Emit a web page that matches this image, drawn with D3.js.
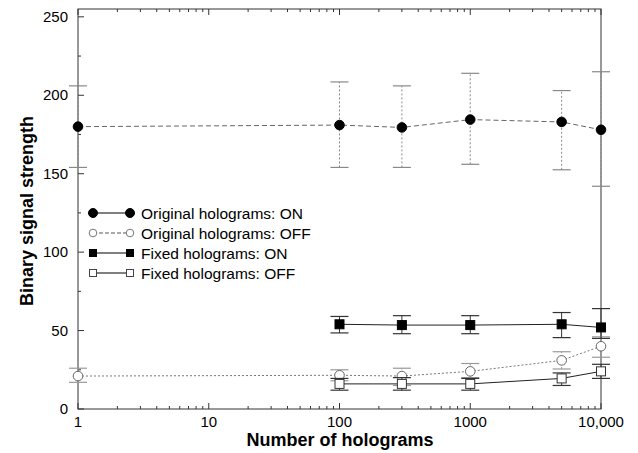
<!DOCTYPE html>
<html>
<head>
<meta charset="utf-8">
<script src="https://cdn.jsdelivr.net/npm/d3@7"></script>
<style>
  body { margin: 0; background: #fff; }
  svg text { font-family: "Liberation Sans", Arial, sans-serif; fill: #000; }
</style>
</head>
<body>
<div class="chart"></div>
<script>
var svgWidth = 638;
var svgHeight = 453;

// data
var origX = [1, 100, 300, 1000, 5000, 10000];
var origOn = [180, 181, 179.5, 184.5, 183, 178];
var origOnLo = [154, 154, 154, 156, 152.5, 142];
var origOnHi = [206, 208.5, 206, 214, 203, 215];
var origOff = [21, 21.5, 21, 24, 31, 40];
var origOffLo = [17, 18, 15, 20, 25.5, 33];
var origOffHi = [26, 25, 26, 29, 36.5, 46];

var fixedX = [100, 300, 1000, 5000, 10000];
var fixedOn = [54, 53.5, 53.5, 54, 52];
var fixedOnLo = [48.5, 48, 48, 45.5, 45];
var fixedOnHi = [59, 59.5, 59.5, 61.5, 64];
var fixedOff = [16, 16, 16, 19.5, 24];
var fixedOffLo = [12, 12, 12, 15, 19.5];
var fixedOffHi = [19.5, 20, 19.5, 23, 28.5];

var xTicks = [1, 10, 100, 1000, 10000];
var xTickLabels = ["1", "10", "100", "1000", "10,000"];
var yTicks = [0, 50, 100, 150, 200, 250];

var legendLabels = ["Original holograms: ON", "Original holograms: OFF", "Fixed holograms: ON", "Fixed holograms: OFF"];

var plot = { left: 78, right: 601, top: 9, bottom: 409 };

var svg = d3.select(".chart")
  .append("svg")
  .attr("width", svgWidth)
  .attr("height", svgHeight);

var x = d3.scaleLog().domain([1, 10000]).range([plot.left, plot.right]);
var y = d3.scaleLinear().domain([0, 255]).range([plot.bottom, plot.top]);

// frame
svg.append("rect")
  .attr("x", plot.left).attr("y", plot.top)
  .attr("width", plot.right - plot.left)
  .attr("height", plot.bottom - plot.top)
  .attr("fill", "none")
  .attr("stroke", "#333")
  .attr("stroke-width", 1);

// x ticks (log minor ticks, inward on bottom and top)
var xMinor = [];
for (var d = 1; d < 10000; d *= 10) {
  for (var k = 1; k < 10; k++) xMinor.push(d * k);
}
xMinor.push(10000);

svg.append("g").selectAll("line.xb")
  .data(xMinor).enter().append("line")
  .attr("x1", function(v) { return x(v); })
  .attr("x2", function(v) { return x(v); })
  .attr("y1", plot.bottom)
  .attr("y2", function(v) { return plot.bottom - (xTicks.indexOf(v) >= 0 ? 6 : 3); })
  .attr("stroke", "#333");

svg.append("g").selectAll("line.xt")
  .data(xMinor).enter().append("line")
  .attr("x1", function(v) { return x(v); })
  .attr("x2", function(v) { return x(v); })
  .attr("y1", plot.top)
  .attr("y2", function(v) { return plot.top + (xTicks.indexOf(v) >= 0 ? 6 : 3); })
  .attr("stroke", "#333");

svg.append("g").selectAll("text")
  .data(xTicks).enter().append("text")
  .attr("x", function(v) { return x(v); })
  .attr("y", 427)
  .attr("text-anchor", "middle")
  .style("font-size", "15px")
  .text(function(v, i) { return xTickLabels[i]; });

// y ticks
var yMinor = d3.range(0, 251, 25);
svg.append("g").selectAll("line")
  .data(yMinor).enter().append("line")
  .attr("x1", plot.left)
  .attr("x2", function(v) { return plot.left + (v % 50 === 0 ? 6 : 3); })
  .attr("y1", function(v) { return y(v); })
  .attr("y2", function(v) { return y(v); })
  .attr("stroke", "#333");

svg.append("g").selectAll("text")
  .data(yTicks).enter().append("text")
  .attr("x", 68)
  .attr("y", function(v) { return y(v) + 5; })
  .attr("text-anchor", "end")
  .style("font-size", "15px")
  .text(function(v) { return v; });

// axis titles
svg.append("text")
  .attr("x", 340).attr("y", 446)
  .attr("text-anchor", "middle")
  .style("font-size", "18px")
  .style("font-weight", "bold")
  .text("Number of holograms");

svg.append("text")
  .attr("transform", "translate(33,211) rotate(-90)")
  .attr("text-anchor", "middle")
  .style("font-size", "18px")
  .style("font-weight", "bold")
  .text("Binary signal strength");

// series
var series = [
  { xs: origX, ys: origOn, lo: origOnLo, hi: origOnHi, shape: "circle", fill: "#000", line: "#666", dash: "5,3", bar: "#888", barDash: "2,2" },
  { xs: origX, ys: origOff, lo: origOffLo, hi: origOffHi, shape: "circle", fill: "#fff", line: "#777", dash: "2,2", bar: "#999", barDash: "2,2" },
  { xs: fixedX, ys: fixedOn, lo: fixedOnLo, hi: fixedOnHi, shape: "square", fill: "#000", line: "#222", dash: null, bar: "#333", barDash: null },
  { xs: fixedX, ys: fixedOff, lo: fixedOffLo, hi: fixedOffHi, shape: "square", fill: "#fff", line: "#222", dash: null, bar: "#333", barDash: null }
];

var lineGen = d3.line()
  .x(function(p) { return x(p[0]); })
  .y(function(p) { return y(p[1]); });

series.forEach(function(s) {
  var pts = s.xs.map(function(v, i) { return [v, s.ys[i], s.lo[i], s.hi[i]]; });
  var g = svg.append("g");

  // error bars
  g.selectAll("line.bar").data(pts).enter().append("line")
    .attr("x1", function(p) { return x(p[0]); })
    .attr("x2", function(p) { return x(p[0]); })
    .attr("y1", function(p) { return y(p[2]); })
    .attr("y2", function(p) { return y(p[3]); })
    .attr("stroke", s.bar)
    .attr("stroke-dasharray", s.barDash);

  ["lo", "hi"].forEach(function(key, j) {
    g.selectAll("line.cap" + key).data(pts).enter().append("line")
      .attr("x1", function(p) { return x(p[0]) - 9; })
      .attr("x2", function(p) { return x(p[0]) + 9; })
      .attr("y1", function(p) { return y(p[2 + j]); })
      .attr("y2", function(p) { return y(p[2 + j]); })
      .attr("stroke", s.bar)
      .attr("stroke-width", 1.2);
  });

  g.append("path")
    .datum(pts)
    .attr("d", lineGen)
    .attr("fill", "none")
    .attr("stroke", s.line)
    .attr("stroke-width", 1)
    .attr("stroke-dasharray", s.dash);

  if (s.shape === "circle") {
    g.selectAll("circle").data(pts).enter().append("circle")
      .attr("cx", function(p) { return x(p[0]); })
      .attr("cy", function(p) { return y(p[1]); })
      .attr("r", 4.8)
      .attr("fill", s.fill)
      .attr("stroke", s.fill === "#000" ? "#000" : "#666");
  } else {
    g.selectAll("rect").data(pts).enter().append("rect")
      .attr("x", function(p) { return x(p[0]) - 4.5; })
      .attr("y", function(p) { return y(p[1]) - 4.5; })
      .attr("width", 9).attr("height", 9)
      .attr("fill", s.fill)
      .attr("stroke", s.fill === "#000" ? "#000" : "#333");
  }
});

// legend
var legend = svg.append("g");
var legendY = [213, 233, 253, 273];
legendLabels.forEach(function(label, i) {
  var s = series[i];
  var ly = legendY[i];
  legend.append("line")
    .attr("x1", 93).attr("x2", 130)
    .attr("y1", ly).attr("y2", ly)
    .attr("stroke", i === 1 ? "#555" : "#000")
    .attr("stroke-dasharray", i === 1 ? "4,2" : null);
  [93, 130].forEach(function(mx) {
    if (s.shape === "circle") {
      legend.append("circle")
        .attr("cx", mx).attr("cy", ly)
        .attr("r", i === 0 ? 4.5 : 3.8)
        .attr("fill", s.fill)
        .attr("stroke", i === 0 ? "#000" : "#777");
    } else {
      legend.append("rect")
        .attr("x", mx - 3.5).attr("y", ly - 3.5)
        .attr("width", 7).attr("height", 7)
        .attr("fill", s.fill)
        .attr("stroke", i === 2 ? "#000" : "#444");
    }
  });
  legend.append("text")
    .attr("x", 141).attr("y", ly + 5.5)
    .style("font-size", "15.5px")
    .text(label);
});
</script>
</body>
</html>
